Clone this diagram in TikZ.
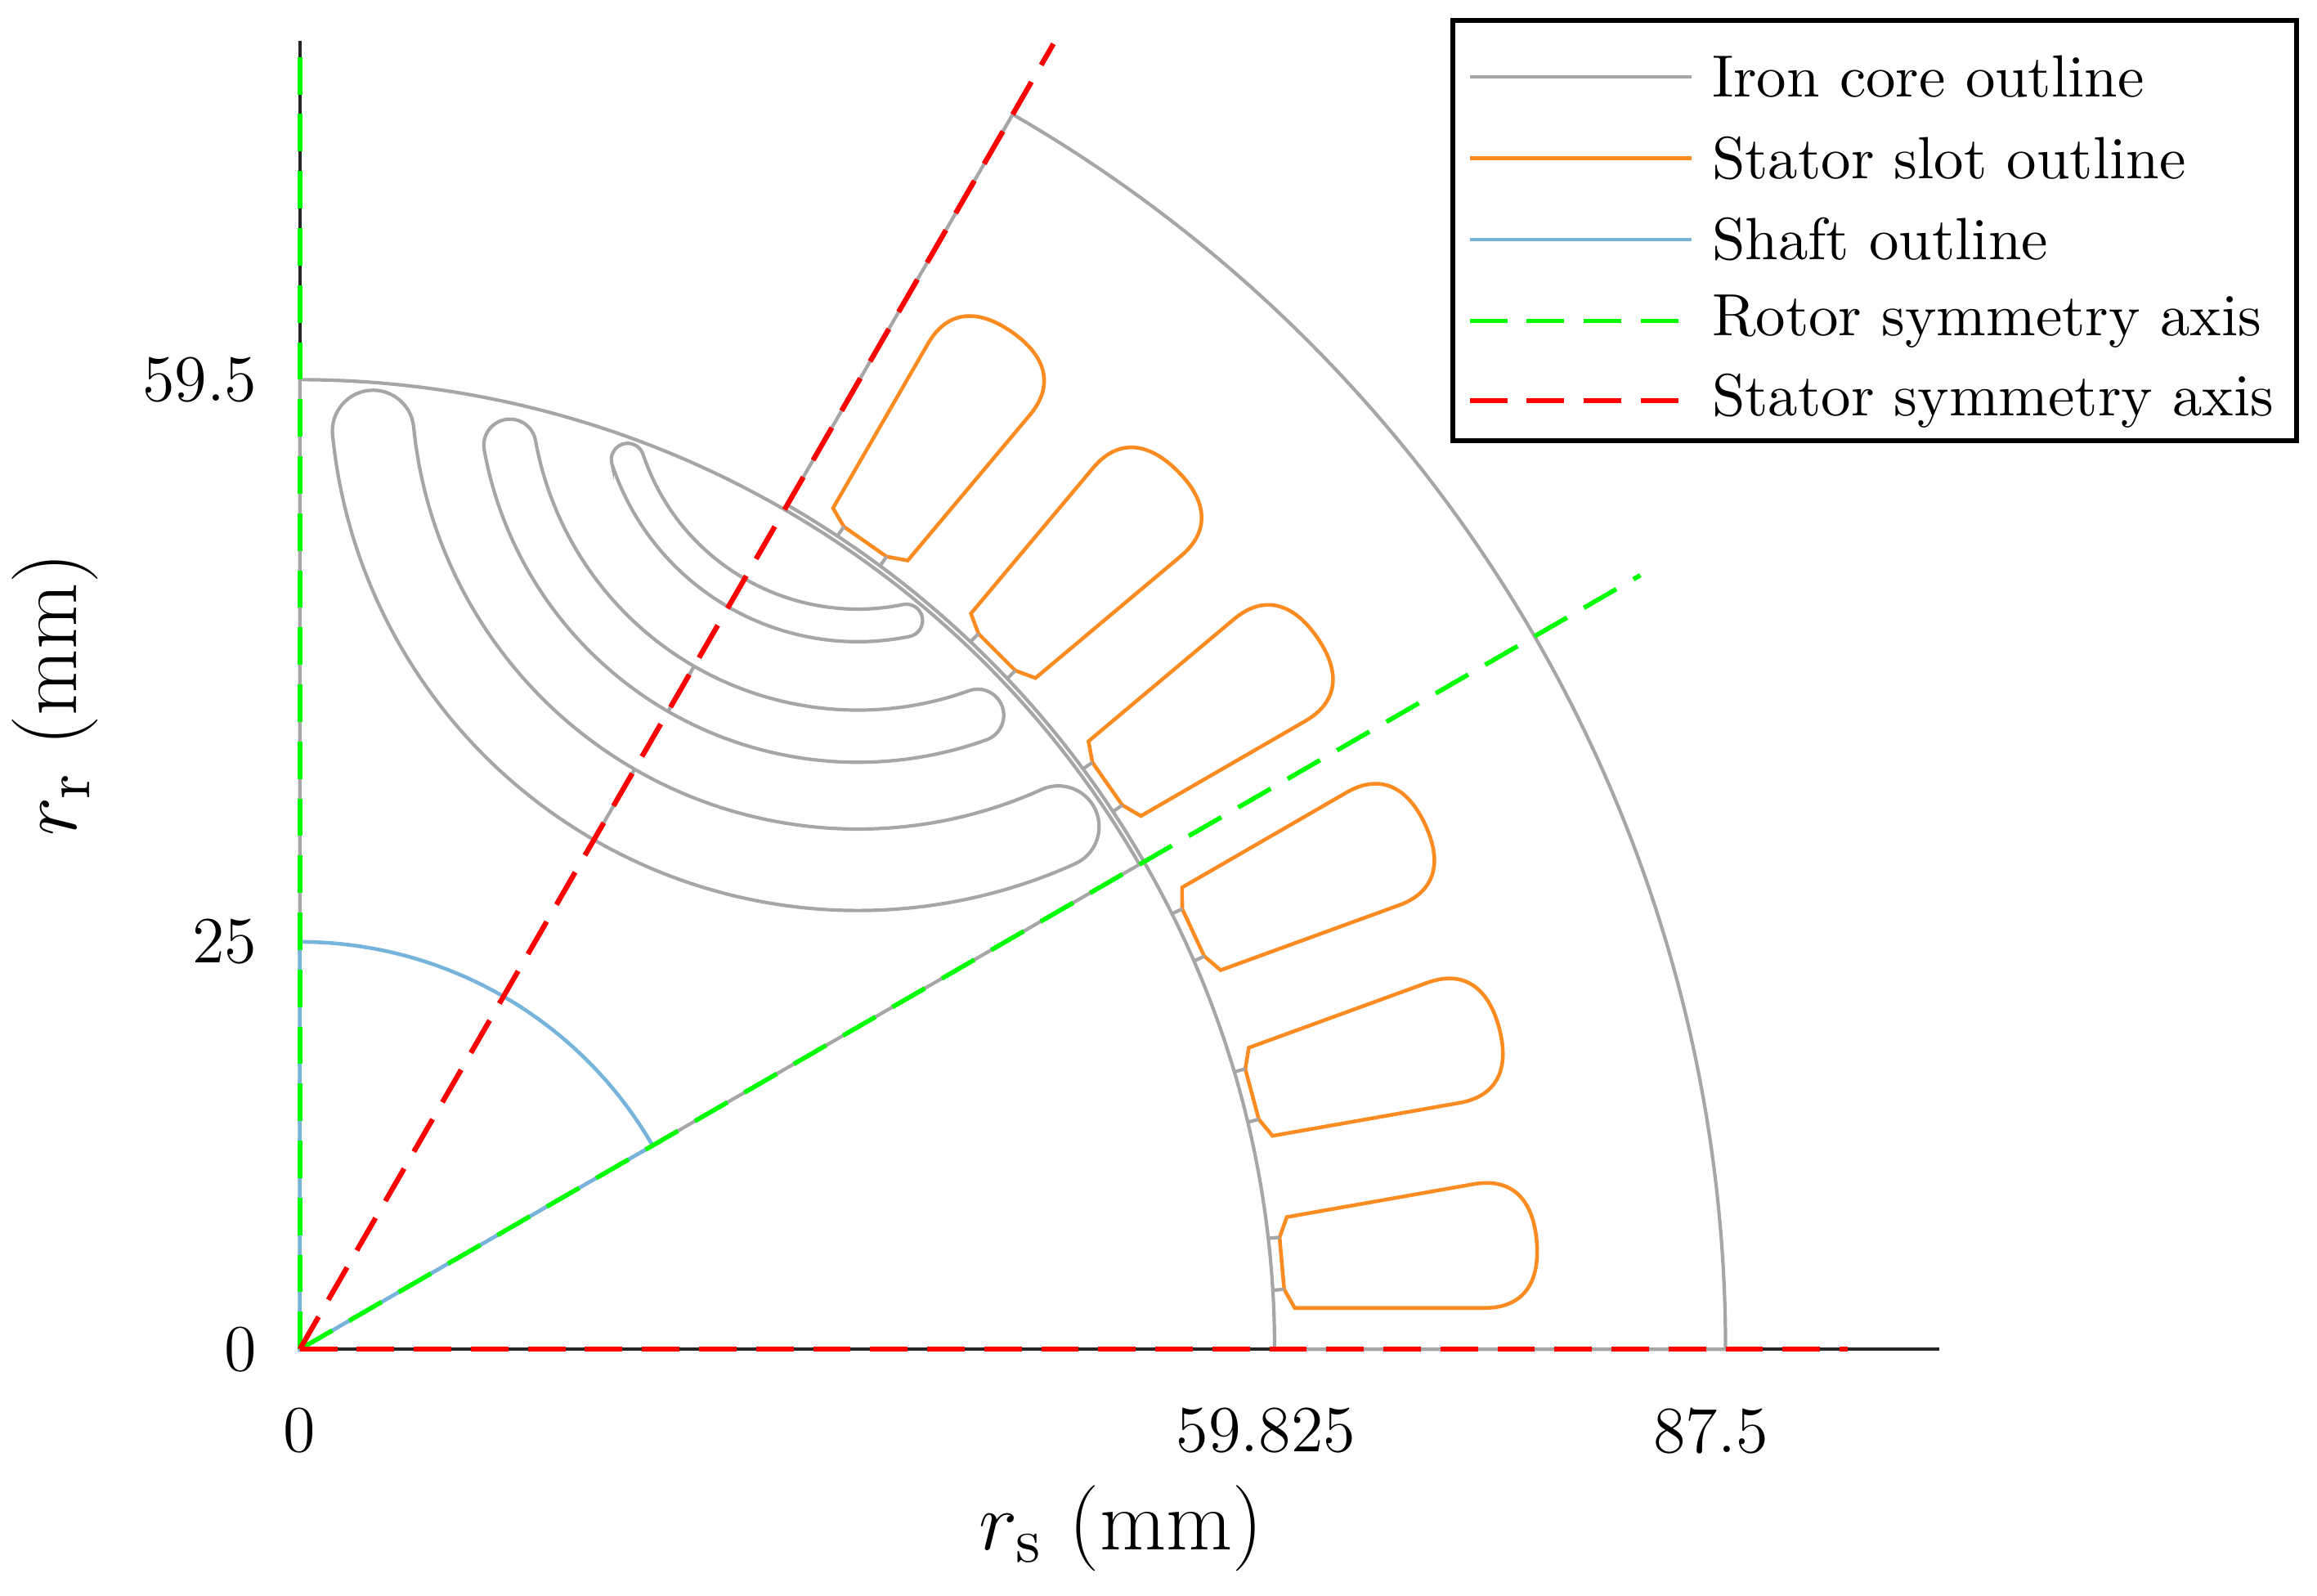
\documentclass[tikz,border=0pt]{standalone}
\begin{document}
\begin{tikzpicture}[x=1mm,y=1mm,
  gr/.style={draw=irong,line width=0.6pt},
  sl/.style={draw=slotor,line width=0.65pt},
  sh/.style={draw=shaftb,line width=0.65pt},
  rax/.style={draw=rotg,line width=0.8pt,dash pattern=on 2.3mm off 1.2mm},
  sax/.style={draw=red,line width=0.9pt,dash pattern=on 2.3mm off 1.2mm},
  ax/.style={draw=black!85,line width=0.6pt},
  tick/.style={font=\fontsize{11.5}{13}\selectfont,inner sep=1pt},
  lab/.style={font=\fontsize{15}{17}\selectfont,inner sep=1pt},
  leg/.style={font=\fontsize{10.4}{12}\selectfont,anchor=west,inner sep=0pt}]
\definecolor{irong}{RGB}{166,166,166}
\definecolor{slotor}{RGB}{252,140,34}
\definecolor{shaftb}{RGB}{118,180,220}
\definecolor{rotg}{RGB}{0,255,0}
\useasboundingbox (-18.4,-15.1) rectangle (123.8,82.8);
\coordinate (O) at (0,0);
\coordinate (xe) at (100.6,0);
\coordinate (ye) at (0,80.3);
\draw[ax] (O) -- (xe);
\draw[ax] (O) -- (ye);
% stator
\draw[gr] (0:59.825) -- (0:87.5) arc[start angle=0,end angle=60,radius=87.5] -- (60:59.825) arc[start angle=60,end angle=0,radius=59.825] -- cycle;
% rotor
\draw[gr] (O) -- (30:59.5) arc[start angle=30,end angle=90,radius=59.5] -- cycle;
% barriers
\begin{scope}[shift={(34.25,59.32)}]
\foreach \ro/\ri/\hw/\ph in {32.4/27.4/2.5/54.3, 23.3/20.1/1.6/49.8, 15.9/13.9/1.0/41.5}{
  \draw[gr] (240-\ph:\ro) arc[start angle=240-\ph,end angle=240+\ph,radius=\ro]
    arc[start angle=240+\ph,end angle=420+\ph,radius=\hw]
    arc[start angle=240+\ph,end angle=240-\ph,radius=\ri]
    arc[start angle=420-\ph,end angle=600-\ph,radius=\hw] -- cycle;
  \draw[gr] (240:\ro) -- (240:\ri);
}
\end{scope}
% slots
\foreach \a in {5,15,...,55}{
\begin{scope}[rotate=\a]
  \draw[sl] (60.5,1.6) -- (60.5,-1.6) -- (61.05,-2.8) -- (72.7,-3.82)
    .. controls (75,-4.0) and (76.2,-2.6) .. (76.2,0)
    .. controls (76.2,2.6) and (75,4.0) .. (72.7,3.82) -- (61.05,2.8) -- cycle;
  \draw[gr] (59.8,1.6) -- (60.5,1.6);
  \draw[gr] (59.8,-1.6) -- (60.5,-1.6);
\end{scope}}
% shaft
\draw[sh] (O) -- (30:25) arc[start angle=30,end angle=90,radius=25] -- cycle;
% axes
\coordinate (ra) at (30:95);
\coordinate (sa) at (60:92.5);
\coordinate (sx) at (95,0);
\draw[rax] (O) -- (ra);
\draw[rax] (O) -- (ye);
\draw[sax] (O) -- (sa);
\draw[sax] (O) -- (sx);
% ticks
\node[tick,anchor=north] (t0x) at (0,-3.2) {0};
\node[tick,anchor=north] (t1x) at (59.3,-3.2) {59.825};
\node[tick,anchor=north] (t2x) at (86.6,-3.2) {87.5};
\node[tick,anchor=east] (t0y) at (-2.2,0) {0};
\node[tick,anchor=east] (t1y) at (-2.2,25) {25};
\node[tick,anchor=east] (t2y) at (-2.2,59.5) {59.5};
\node[lab] (xl) at (50.4,-11) {$r_{\mathrm{s}}$ (mm)};
\node[lab,rotate=90] (yl) at (-15,40.2) {$r_{\mathrm{r}}$ (mm)};
% legend
\node[draw=black,line width=0.9pt,minimum width=51.8mm,minimum height=25.8mm,anchor=south west,inner sep=0pt] (lg) at (70.6,55.6) {};
\foreach \y/\st/\t [count=\i] in {78.1/gr/Iron core outline, 73.1/sl/Stator slot outline, 68.1/sh/Shaft outline, 63.1/rax/Rotor symmetry axis, 58.2/sax/Stator symmetry axis}{
  \coordinate (la\i) at (71.8,\y);
  \coordinate (lb\i) at (85.4,\y);
  \draw[\st] (la\i) -- (lb\i);
  \node[leg] (lt\i) at (86.6,\y) {\t};
}
\end{tikzpicture}
\end{document}
